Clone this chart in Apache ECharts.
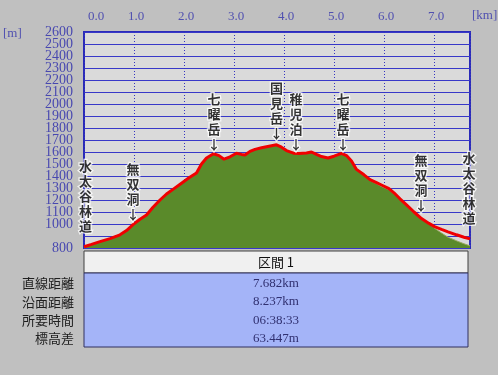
<!DOCTYPE html>
<html><head><meta charset="utf-8">
<script src="https://cdn.jsdelivr.net/npm/echarts@6/dist/echarts.min.js"></script>
<style>html,body{margin:0;padding:0;background:#c0c0c0;}#c{width:498px;height:375px;}</style>
</head><body><div id="c"></div>
<script>
// distance (km) along the route
const distKm = [0.00,0.15,0.32,0.52,0.72,0.85,0.98,1.12,1.25,1.38,1.52,1.65,1.80,1.95,2.10,2.25,2.35,2.45,2.59,2.70,2.80,2.92,3.05,3.15,3.22,3.32,3.42,3.55,3.70,3.85,3.95,4.05,4.19,4.30,4.45,4.55,4.65,4.75,4.88,5.00,5.15,5.25,5.35,5.45,5.60,5.72,5.85,5.95,6.10,6.20,6.32,6.45,6.60,6.75,6.90,7.01,7.15,7.28,7.45,7.60,7.72];
// red route elevation (m)
const routeElev = [810,830,853,878,910,945,995,1040,1075,1140,1200,1250,1295,1340,1385,1425,1500,1550,1585,1570,1540,1560,1590,1580,1575,1605,1622,1635,1648,1660,1640,1612,1590,1588,1592,1600,1580,1562,1550,1565,1588,1570,1525,1455,1410,1370,1345,1325,1295,1260,1210,1160,1100,1045,1005,978,955,935,910,890,876];
// green terrain elevation (m)
const groundElev = [808,828,851,876,908,943,993,1038,1073,1138,1198,1248,1293,1338,1383,1423,1498,1548,1583,1568,1538,1558,1588,1578,1573,1603,1620,1633,1646,1658,1638,1610,1588,1586,1590,1598,1578,1560,1548,1563,1586,1568,1523,1453,1405,1362,1335,1312,1285,1250,1200,1150,1090,1040,1000,965,925,890,860,835,818];
// point labels
const markNames = ['無双洞','七曜岳','国見岳','稚児泊','七曜岳','無双洞'];
const markKm = [0.98,2.60,3.85,4.24,5.18,6.74];
const markElev = [1000,1589,1680,1589,1589,1075];
const endNames = ['水太谷林道','水太谷林道'];
const endKm = [0.03,7.70];
const endElev = [810,878];
// axis ticks
const xMin = 0, xMax = 7.72, xStep = 1;
const yMin = 800, yMax = 2600, yStep = 100;
const hiddenYLabels = [900];
// summary table
const sectionTitle = '区間 1';
const rowLabels = ['直線距離','沿面距離','所要時間','標高差'];
const rowValues = ['7.682km','8.237km','06:38:33','63.447m'];

const chart = echarts.init(document.getElementById('c'));
const vert = s => s.split('').join('\n');
const gridL = 84, gridT = 32, gridR = 28, gridB = 127;
const tblL = 84, tblR = 468;

const graphics = [
  {type:'text', left:3, top:27, style:{text:'[m]', font:'13px "Liberation Serif"', fill:'#5050b0'}},
  {type:'text', left:472, top:9, style:{text:'[km]', font:'13px "Liberation Serif"', fill:'#5050b0'}},
  {type:'rect', shape:{x:tblL, y:251, width:tblR-tblL, height:22}, style:{fill:'#f0f0f0', stroke:'#404040', lineWidth:1}},
  {type:'text', style:{x:(tblL+tblR)/2, y:262, text:sectionTitle, align:'center', verticalAlign:'middle', font:'13px "Noto Sans CJK JP"', fill:'#101010'}},
  {type:'rect', shape:{x:tblL, y:273, width:tblR-tblL, height:74}, style:{fill:'#a4b4f8', stroke:'#303060', lineWidth:1}}
];
rowLabels.forEach((t,i)=>{
  const y = 283.5 + i*18.3;
  graphics.push({type:'text', style:{x:74, y:y, text:t, align:'right', verticalAlign:'middle', font:'13px "Noto Sans CJK JP"', fill:'#202020'}});
  graphics.push({type:'text', style:{x:(tblL+tblR)/2, y:y, text:rowValues[i], align:'center', verticalAlign:'middle', font:'13px "Liberation Serif"', fill:'#303070'}});
});

const labelStyle = {color:'#000', fontWeight:'bold', fontSize:13, fontFamily:'"Noto Sans CJK JP"', lineHeight:15, textBorderColor:'#fff', textBorderWidth:2.5, align:'center'};
const yLabelBase = {color:'#4848b0', fontFamily:'"Liberation Serif"', fontSize:14, lineHeight:10, margin:11, interval:0, hideOverlap:false};

chart.setOption({
  backgroundColor:'#c0c0c0',
  animation:false,
  grid:{left:gridL, top:gridT, right:gridR, bottom:gridB, show:true, backgroundColor:'#dadada', borderColor:'#2a2ab8', borderWidth:2},
  xAxis:{type:'value', position:'top', min:xMin, max:xMax, interval:xStep,
    axisLine:{show:false}, axisTick:{show:false},
    axisLabel:{color:'#5050b0', fontFamily:'"Liberation Serif"', fontSize:13, margin:9, showMaxLabel:true,
      formatter:v => (Math.abs(v-Math.round(v))<1e-6 ? v.toFixed(1) : ''), alignMinLabel:'left', padding:[0,0,0,4]},
    splitLine:{show:true, lineStyle:{color:'#3434c0', type:[1,2], width:1}}},
  yAxis:[
    {type:'value', position:'left', min:yMin, max:yMax, interval:yStep,
      axisLine:{show:false}, axisTick:{show:false},
      axisLabel:Object.assign({showMaxLabel:false, showMinLabel:true,
        formatter:v => (hiddenYLabels.includes(v) || v===yMax) ? '' : String(v)}, yLabelBase),
      splitLine:{show:true, lineStyle:{color:'#3838c8', width:1}}},
    {type:'value', position:'left', min:yMin, max:yMax, interval:yStep,
      axisLine:{show:false}, axisTick:{show:false}, splitLine:{show:false},
      axisLabel:Object.assign({showMaxLabel:true, showMinLabel:false,
        formatter:v => v===yMax ? String(v) : ''}, yLabelBase)}
  ],
  series:[
    {type:'line', data:distKm.map((k,i)=>[k,groundElev[i]]), symbol:'none', z:2,
      lineStyle:{width:1, color:'#9aa860'}, areaStyle:{color:'#5a8a2a', opacity:1, origin:'start'}},
    {type:'line', data:distKm.map((k,i)=>[k,routeElev[i]]), symbol:'none', z:3,
      lineStyle:{width:3, color:'#f00000'}},
    {type:'scatter', symbolSize:0, z:5, silent:true,
      data:markKm.map((k,i)=>({value:[k,markElev[i]], name:markNames[i]})),
      label:Object.assign({show:true, position:'top', distance:2, formatter:p=>vert(p.name)+'\n↓'}, labelStyle)},
    {type:'scatter', symbolSize:0, z:5, silent:true,
      data:endKm.map((k,i)=>({value:[k,endElev[i]], name:endNames[i]})),
      label:Object.assign({show:true, position:'top', distance:13, formatter:p=>vert(p.name)}, labelStyle)}
  ],
  graphic:graphics
});
</script></body></html>
